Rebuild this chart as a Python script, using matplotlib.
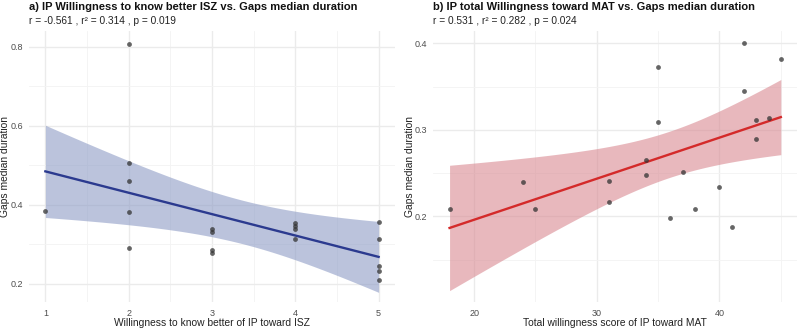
import numpy as np
import matplotlib
matplotlib.use("Agg")
import matplotlib.pyplot as plt
from matplotlib.ticker import MultipleLocator

plt.rcParams['font.family'] = ['Liberation Sans', 'DejaVu Sans']

# ---- data panel a ----
isz_x = [1, 2, 2, 2, 2, 2, 3, 3, 3, 3, 4, 4, 4, 4, 5, 5, 5, 5, 5]
isz_y = [0.385, 0.808, 0.505, 0.460, 0.382, 0.290, 0.339, 0.331, 0.286, 0.278,
         0.354, 0.347, 0.338, 0.313, 0.357, 0.313, 0.245, 0.232, 0.209]
# ---- data panel b ----
mat_x = [18, 24, 25, 31, 31, 34, 34, 35, 35, 36, 37, 38, 40, 41, 42, 42, 43, 43, 44, 45]
mat_y = [0.208, 0.240, 0.209, 0.241, 0.217, 0.265, 0.248, 0.373, 0.309, 0.198,
         0.251, 0.209, 0.234, 0.188, 0.400, 0.345, 0.311, 0.290, 0.314, 0.382]

title_a = "a) IP Willingness to know better ISZ vs. Gaps median duration"
sub_a = "r = -0.561 , r² = 0.314 , p = 0.019"
xlab_a = "Willingness to know better of IP toward ISZ"
title_b = "b) IP total Willingness toward MAT vs. Gaps median duration"
sub_b = "r = 0.531 , r² = 0.282 , p = 0.024"
xlab_b = "Total willingness score of IP toward MAT"
ylab = "Gaps median duration"

T95 = {15: 2.131, 16: 2.120, 17: 2.110, 18: 2.101, 19: 2.093, 20: 2.086}


def fit_ci(x, y):
    x = np.asarray(x, float); y = np.asarray(y, float)
    n = len(x)
    b, a = np.polyfit(x, y, 1)
    res = y - (a + b * x)
    s = np.sqrt(np.sum(res ** 2) / (n - 2))
    xs = np.linspace(x.min(), x.max(), 80)
    se = s * np.sqrt(1 / n + (xs - x.mean()) ** 2 / np.sum((x - x.mean()) ** 2))
    yh = a + b * xs
    t = T95[n - 2]
    return xs, yh, yh - t * se, yh + t * se


fig = plt.figure(figsize=(8, 3.29), dpi=100)
W, H = 800, 329
TOP, BOT = 31.3, 302


def make_ax(l, r):
    return fig.add_axes([l / W, 1 - BOT / H, (r - l) / W, (BOT - TOP) / H])


ax1 = make_ax(28.7, 395.3)
ax2 = make_ax(433, 797.4)

grid_c = '#EBEBEB'
for ax, x, y, lc, fc, title, sub, xl, xlim, ylim, xmaj, ymaj, left, right, ylx in [
    (ax1, isz_x, isz_y, '#2B3A8F', '#8E9CC6', title_a, sub_a, xlab_a, (0.8, 5.2), (0.154, 0.839), 1, 0.2, 28.7, 395.3, 5.5),
    (ax2, mat_x, mat_y, '#D42A2A', '#D98A92', title_b, sub_b, xlab_b, (16.65, 46.35), (0.101, 0.414), 10, 0.1, 433, 797.4, 410),
]:
    xs, yh, lo, hi = fit_ci(x, y)
    ax.fill_between(xs, lo, hi, color=fc, alpha=0.6, lw=0, zorder=2)
    ax.plot(xs, yh, color=lc, lw=1.7, zorder=3)
    ax.scatter(x, y, s=12, color='#333333', alpha=0.75, lw=0, zorder=4)
    ax.set_xlim(*xlim); ax.set_ylim(*ylim)
    ax.xaxis.set_major_locator(MultipleLocator(xmaj))
    ax.xaxis.set_minor_locator(MultipleLocator(xmaj / 2))
    ax.yaxis.set_major_locator(MultipleLocator(ymaj))
    ax.yaxis.set_minor_locator(MultipleLocator(ymaj / 2))
    ax.grid(True, which='major', color=grid_c, lw=1.0, zorder=0)
    ax.grid(True, which='minor', color='#F3F3F3', lw=0.6, zorder=0)
    ax.set_axisbelow(True)
    for sp in ax.spines.values():
        sp.set_visible(False)
    ax.tick_params(which='both', length=0, labelsize=6.5, labelcolor='#4D4D4D')
    ax.tick_params(axis='x', pad=5)
    ax.tick_params(axis='y', pad=4)
    ax.set_xlabel(xl, fontsize=7.4, color='#222222', va='center')
    ax.set_ylabel(ylab, fontsize=7.4, color='#222222', va='center')
    aw = right - left
    ax.xaxis.set_label_coords(0.5, -(322.7 - BOT) / (BOT - TOP))
    ax.yaxis.set_label_coords((ylx - left) / aw, 0.5)
    fig.text(left / W, 1 - 7 / H, title, fontsize=8.0, fontweight='bold', ha='left', va='center', color='#111111')
    fig.text(left / W, 1 - 21.5 / H, sub, fontsize=7.3, ha='left', va='center', color='#222222')

fig.savefig('out.png', dpi=100)
